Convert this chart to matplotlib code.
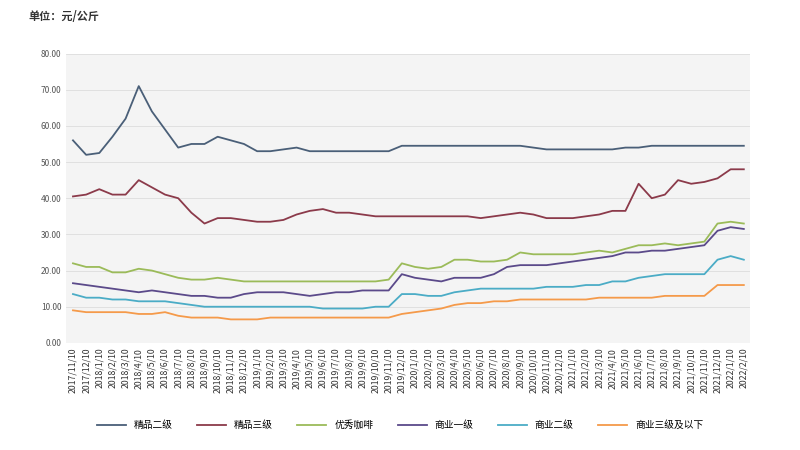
import matplotlib
matplotlib.use("Agg")
import matplotlib.pyplot as plt
import numpy as np

plt.rcParams['font.family'] = ['Noto Sans CJK SC', 'DejaVu Sans']

labels = []
y, m = 2017, 11
for _ in range(52):
    labels.append(f"{y}/{m}/10")
    m += 1
    if m > 12:
        m = 1; y += 1

s1 = [56,52,52.5,57,62,71,64,59,54,55,55,57,56,55,53,53,53.5,54,53,53,53,53,53,53,53,54.5,54.5,54.5,54.5,54.5,54.5,54.5,54.5,54.5,54.5,54,53.5,53.5,53.5,53.5,53.5,53.5,54,54,54.5,54.5,54.5,54.5,54.5,54.5,54.5,54.5]
s2 = [40.5,41,42.5,41,41,45,43,41,40,36,33,34.5,34.5,34,33.5,33.5,34,35.5,36.5,37,36,36,35.5,35,35,35,35,35,35,35,35,34.5,35,35.5,36,35.5,34.5,34.5,34.5,35,35.5,36.5,36.5,44,40,41,45,44,44.5,45.5,48,48]
s3 = [22,21,21,19.5,19.5,20.5,20,19,18,17.5,17.5,18,17.5,17,17,17,17,17,17,17,17,17,17,17,17.5,22,21,20.5,21,23,23,22.5,22.5,23,25,24.5,24.5,24.5,24.5,25,25.5,25,26,27,27,27.5,27,27.5,28,33,33.5,33]
s4 = [16.5,16,15.5,15,14.5,14,14.5,14,13.5,13,13,12.5,12.5,13.5,14,14,14,13.5,13,13.5,14,14,14.5,14.5,14.5,19,18,17.5,17,18,18,18,19,21,21.5,21.5,21.5,22,22.5,23,23.5,24,25,25,25.5,25.5,26,26.5,27,31,32,31.5]
s5 = [13.5,12.5,12.5,12,12,11.5,11.5,11.5,11,10.5,10,10,10,10,10,10,10,10,10,9.5,9.5,9.5,9.5,10,10,13.5,13.5,13,13,14,14.5,15,15,15,15,15,15.5,15.5,15.5,16,16,17,17,18,18.5,19,19,19,19,23,24,23]
s6 = [9,8.5,8.5,8.5,8.5,8,8,8.5,7.5,7,7,7,6.5,6.5,6.5,7,7,7,7,7,7,7,7,7,7,8,8.5,9,9.5,10.5,11,11,11.5,11.5,12,12,12,12,12,12,12.5,12.5,12.5,12.5,12.5,13,13,13,13,16,16,16]
names = ['精品二级','精品三级','优秀咖啡','商业一级','商业二级','商业三级及以下']
colors = ['#4a5f78','#8b3a4a','#9bbb59','#5b4a8a','#4bacc6','#f59a4a']

fig = plt.figure(figsize=(8,4.5), dpi=100)
ax = fig.add_axes([0.083, 0.238, 0.855, 0.643])
ax.set_facecolor('#f4f4f4')
x = np.arange(len(labels))
for s, n, c in zip([s1,s2,s3,s4,s5,s6], names, colors):
    ax.plot(x, s, color=c, lw=1.3, label=n)
ax.set_ylim(0, 80)
ax.set_xlim(-0.5, 51.5)
ax.set_yticks(np.arange(0, 81, 10))
ax.set_yticklabels([f"{v:.2f}" for v in range(0, 81, 10)], fontsize=6, color='#555555')
ax.set_xticks(x)
ax.set_xticklabels(labels, rotation=90, fontsize=6.3, color='#333333')
ax.grid(axis='y', color='#dddddd', lw=0.6)
ax.set_axisbelow(True)
for sp in ax.spines.values():
    sp.set_visible(False)
ax.tick_params(length=0)
fig.text(0.035, 0.955, '单位：元/公斤', fontsize=8, fontweight='bold', color='#333333')
fig.legend(loc='lower center', bbox_to_anchor=(0.5, 0.025), ncol=6, frameon=False, fontsize=7, handlelength=3, columnspacing=2.5)
fig.savefig('out.png', dpi=100)
